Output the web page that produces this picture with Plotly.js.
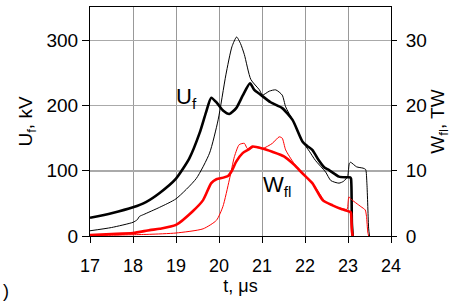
<!DOCTYPE html>
<html>
<head>
<meta charset="utf-8">
<script src="https://cdn.plot.ly/plotly-3.0.1.min.js"></script>
<style>html,body{margin:0;padding:0;background:#fff;}#chart{width:451px;height:303px;}</style>
</head>
<body>
<div id="chart"></div>
<script>
// U_f (kV), thick black curve
const uThickT = [17.0, 17.5, 18.0, 18.3, 18.62, 19.0, 19.31, 19.55, 19.7, 19.82, 19.95, 20.1, 20.24, 20.4, 20.55, 20.72, 20.82, 20.94, 21.2, 21.47, 21.71, 21.94, 22.05, 22.17, 22.32, 22.45, 22.56, 22.79, 22.95, 23.05, 23.07, 23.09, 23.11];
const uThickV = [28, 35, 44, 52, 66, 88, 119, 158, 190, 212, 204, 192, 187, 196, 215, 234, 224, 218, 205, 196, 178, 145, 138, 132, 116, 105, 101, 91, 90, 90, 88, 20, 0];
// U_f (kV), thin black curve
const uThinT = [17.0, 17.5, 18.0, 18.1, 18.15, 18.25, 18.62, 19.0, 19.47, 19.78, 19.98, 20.16, 20.3, 20.41, 20.5, 20.59, 20.74, 20.94, 21.01, 21.17, 21.32, 21.47, 21.55, 21.71, 21.94, 22.1, 22.24, 22.48, 22.6, 22.79, 22.9, 22.99, 23.01, 23.03, 23.06, 23.2, 23.35, 23.41, 23.44, 23.48, 23.5];
const uThinV = [8, 13, 21, 25, 30, 33, 44, 57, 88, 127, 178, 247, 290, 305, 295, 278, 240, 224, 216, 222, 224, 216, 198, 178, 145, 130, 116, 98, 85, 81, 84, 91, 100, 111, 113, 106, 104, 102, 80, 12, 0];
// W_fl (TW), thick red curve
const wThickT = [17.0, 17.5, 18.0, 18.39, 18.62, 19.0, 19.39, 19.63, 19.82, 19.94, 20.0, 20.21, 20.3, 20.4, 20.55, 20.7, 20.78, 21.01, 21.24, 21.51, 21.75, 21.94, 22.17, 22.41, 22.64, 22.86, 23.05, 23.07, 23.09, 23.11];
const wThickV = [0.15, 0.3, 0.46, 0.9, 1.1, 1.7, 3.8, 5.5, 8.1, 8.7, 8.8, 9.2, 10.0, 11.4, 12.7, 13.3, 13.7, 13.4, 12.9, 12.2, 10.9, 9.6, 8.1, 5.5, 4.7, 4.1, 3.7, 3.5, 0.8, 0];
// W_fl (TW), thin red curve
const wThinT = [17.0, 17.5, 18.0, 18.39, 19.0, 19.63, 19.94, 20.09, 20.24, 20.36, 20.47, 20.59, 20.66, 20.78, 21.01, 21.24, 21.4, 21.47, 21.55, 21.75, 22.01, 22.24, 22.48, 22.71, 22.98, 23.0, 23.02, 23.06, 23.3, 23.4, 23.43, 23.46, 23.48];
const wThinV = [0.05, 0.12, 0.2, 0.26, 0.46, 1.1, 2.4, 4.5, 8.6, 12.2, 14.0, 14.2, 13.4, 13.7, 13.4, 14.2, 15.2, 15.0, 13.2, 11.1, 9.3, 7.5, 5.2, 4.5, 4.1, 5.0, 6.0, 5.7, 4.5, 4.0, 3.0, 0.6, 0];

const xTicks = [17, 18, 19, 20, 21, 22, 23, 24];
const uTicks = [0, 100, 200, 300];
const wTicks = [0, 10, 20, 30];

const FONT = 'Liberation Sans, Arial, sans-serif';
const SM = 0.6;

const traces = [
  {x: uThinT, y: uThinV, type: 'scatter', mode: 'lines', line: {color: '#000', width: 1, shape: 'spline', smoothing: SM}, yaxis: 'y'},
  {x: uThickT, y: uThickV, type: 'scatter', mode: 'lines', line: {color: '#000', width: 2.6, shape: 'spline', smoothing: SM}, yaxis: 'y'},
  {x: wThinT, y: wThinV, type: 'scatter', mode: 'lines', line: {color: '#ff0000', width: 1, shape: 'spline', smoothing: SM}, yaxis: 'y2'},
  {x: wThickT, y: wThickV, type: 'scatter', mode: 'lines', line: {color: '#ff0000', width: 2.6, shape: 'spline', smoothing: SM}, yaxis: 'y2'}
];

const layout = {
  width: 451, height: 303,
  margin: {l: 90, r: 60, t: 7, b: 67, pad: 0},
  showlegend: false,
  paper_bgcolor: '#fff', plot_bgcolor: '#fff',
  font: {family: FONT, size: 19, color: '#000'},
  xaxis: {
    range: [17, 24], tickvals: xTicks, ticks: 'outside', ticklen: 6, tickcolor: '#000', tickwidth: 1,
    showline: true, linecolor: '#000', linewidth: 1, mirror: true,
    showgrid: true, gridcolor: '#999', gridwidth: 1, zeroline: false,
    tickfont: {family: FONT, size: 18}, ticklabelstandoff: 7,
    title: {text: 't, μs', font: {family: FONT, size: 18}, standoff: 0}
  },
  yaxis: {
    range: [0, 351], tickvals: uTicks, ticks: 'outside', ticklen: 7, tickcolor: '#000', tickwidth: 1,
    showline: true, linecolor: '#000', linewidth: 1,
    showgrid: true, gridcolor: '#aaa', gridwidth: 1.5,
    zeroline: true, zerolinecolor: '#333', zerolinewidth: 2,
    tickfont: {family: FONT, size: 19},
    title: {text: 'U<sub>f</sub>, kV', font: {family: FONT, size: 19}, standoff: 8}
  },
  yaxis2: {
    overlaying: 'y', side: 'right', range: [0, 35.1], tickvals: wTicks,
    ticks: 'outside', ticklen: 5, tickcolor: '#000', tickwidth: 1,
    showline: true, linecolor: '#000', linewidth: 1,
    showgrid: false, zeroline: false,
    tickfont: {family: FONT, size: 19}, ticklabelstandoff: 5,
    title: {text: 'W<sub>fl</sub>, TW', font: {family: FONT, size: 19}, standoff: 8}
  },
  annotations: [
    {x: 18.95, y: 212, xref: 'x', yref: 'y', text: 'U<sub>f</sub>', showarrow: false, xanchor: 'left', yanchor: 'middle', font: {family: FONT, size: 22}},
    {x: 20.98, y: 76, xref: 'x', yref: 'y', text: 'W<sub>fl</sub>', showarrow: false, xanchor: 'left', yanchor: 'middle', font: {family: FONT, size: 22}},
    {x: -0.295, y: -0.292, xref: 'paper', yref: 'paper', text: ')', showarrow: false, xanchor: 'left', yanchor: 'bottom', font: {family: FONT, size: 18}}
  ]
};

Plotly.newPlot('chart', traces, layout, {staticPlot: true, displayModeBar: false});
</script>
</body>
</html>
